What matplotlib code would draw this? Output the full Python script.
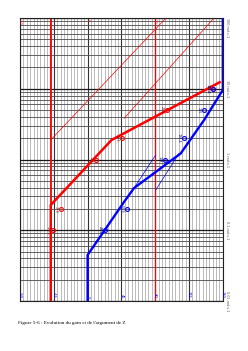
import numpy as np
import matplotlib
matplotlib.use('Agg')
import matplotlib.pyplot as plt
import matplotlib.transforms as mtransforms
from matplotlib.ticker import MultipleLocator, LogLocator, NullFormatter

# ---------------------------------------------------------------- data
# gain of Z (dB) versus pulsation (rad/s)
gain_w = [0.01, 0.2275, 1.89, 12.6]
gain_db = [-10.9, -10.9, 7.1, 39.4]

# argument of Z (degrees) versus pulsation (rad/s)
phase_w = [0.01, 0.0447, 0.251, 0.395, 1.22, 1.79, 3.6, 9.6, 100]
phase_deg = [0, 0, 48.5, 61.8, 124, 135, 155, 180, 180]

# asymptotes (thin lines)
asym1_w = [100, 1.89, 1.89, 100]
asym1_db = [-10.9, -10.9, -10.9, 23.2]
asym2_w = [3.82, 100]
asym2_db = [10.8, 37.4]
tan1_w = [0.395, 1.16]
tan1_deg = [61.8, 90.7]
tan2_w = [0.37, 1.22]
tan2_deg = [90.7, 121.7]

# measured points
mes_w = [0.1, 0.2, 1, 2, 5, 10]
mes_db = [-10.1, -7.9, 2.4, 10.3, 23.6, 37.2]
mes_deg = [23.2, 52.9, 103, 128.4, 155, 167.4]

gain_ticks = [-20, 0, 20]
phase_ticks = [-90, -45, 0, 45, 90, 135, 180]
decades = [0.01, 0.1, 1, 10, 100]
decade_labels = ['0.01 rad.s-1', '0.1 rad.s-1', '1 rad.s-1', '10 rad.s-1', '100 rad.s-1']

caption = "Figure 5-6 : Evolution du gain et de l'argument de Z"

# ---------------------------------------------------------------- figure
fig = plt.figure(figsize=(2.48, 3.51), dpi=100)
ax = fig.add_axes([20 / 248, 1 - 301 / 351, 202.8 / 248, 283 / 351])
ax.set_yscale('log')
ax.set_ylim(0.01, 100)
ax.set_xlim(-20, 40)

ax.xaxis.set_major_locator(MultipleLocator(10))
ax.xaxis.set_minor_locator(MultipleLocator(1))
ax.yaxis.set_major_locator(LogLocator(base=10))
ax.yaxis.set_minor_locator(LogLocator(base=10, subs=np.arange(2, 10)))
ax.yaxis.set_minor_formatter(NullFormatter())
ax.grid(which='minor', axis='x', color='#a8a8a8', lw=0.55)
ax.grid(which='major', axis='x', color='#333333', lw=0.8)
ax.grid(which='minor', axis='y', color='#4a4a4a', lw=0.6)
ax.grid(which='major', axis='y', color='#1a1a1a', lw=0.9)
ax.set_axisbelow(True)
ax.tick_params(which='both', length=0, labelbottom=False, labelleft=False)
for s in ax.spines.values():
    s.set_color('#222222')
    s.set_linewidth(0.8)

ax2 = ax.twiny()
ax2.set_xlim(-90, 180)
ax2.set_xticks([])
ax2.tick_params(length=0)
for s in ax2.spines.values():
    s.set_visible(False)

# red reference lines
ax.axvline(-10.9, color='red', lw=1.3)
ax.axvline(20, color='red', lw=0.9)
ax.plot(asym1_db, asym1_w, color='red', lw=0.5)
ax.plot(asym2_db, asym2_w, color='red', lw=0.5)
ax2.plot(tan1_deg, tan1_w, color='blue', lw=0.5)
ax2.plot(tan2_deg, tan2_w, color='blue', lw=0.5)

# curves
ax.plot(gain_db, gain_w, color='red', lw=1.8, solid_capstyle='butt', clip_on=False)
ax2.plot(phase_deg, phase_w, color='blue', lw=1.7, solid_capstyle='butt')

ax.plot(mes_db, mes_w, 'o', mfc='none', mec='red', ms=2.8, mew=0.8)
ax2.plot(mes_deg, mes_w, 'o', mfc='none', mec='blue', ms=2.8, mew=0.8)
for d, p, w in zip(mes_db, mes_deg, mes_w):
    ax.text(d - 1.0, w, '%g' % d, color='#800000', fontsize=2.4, rotation=-90,
            ha='right', va='center')
    ax2.text(p - 4.5, w, '%g' % p, color='#000080', fontsize=2.4, rotation=-90,
             ha='right', va='center')

# axis labels
tr1 = mtransforms.blended_transform_factory(ax.transData, ax.transAxes)
for g in gain_ticks:
    ax.text(g, 0.995, '%d' % g, color='red', fontsize=2.6, rotation=-90,
            ha='center', va='top', transform=tr1)
tr2 = mtransforms.blended_transform_factory(ax2.transData, ax2.transAxes)
for p in phase_ticks:
    ax2.text(p, 0.01, '%d' % p, color='blue', fontsize=2.6, rotation=-90,
             ha='center', va='bottom', transform=tr2)
tr3 = mtransforms.blended_transform_factory(ax.transAxes, ax.transData)
for w, lab in zip(decades, decade_labels):
    ax.text(1.012, w, lab, color='#555555', fontsize=2.4, rotation=-90,
            ha='left', va='top' if w == 100 else 'center', transform=tr3)

fig.text(18 / 248, 1 - 323 / 351, caption, fontsize=3.7, family='Liberation Serif',
         ha='left', va='center')

fig.savefig('out.png', dpi=100)
